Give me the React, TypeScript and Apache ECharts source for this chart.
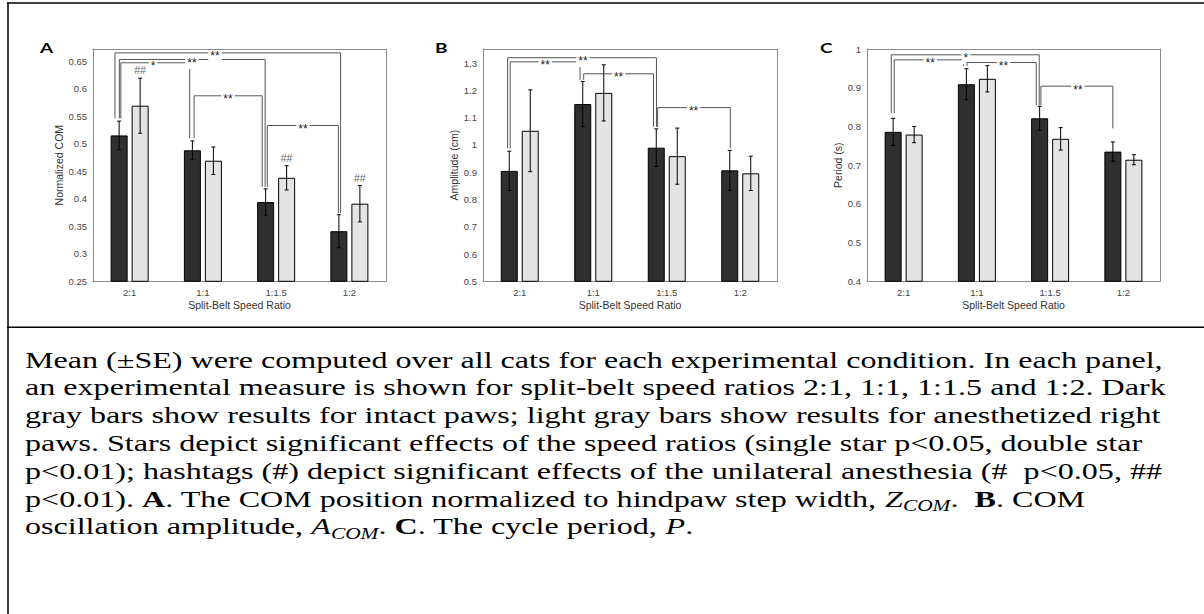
import React, { useEffect, useRef } from "react";
import * as echarts from "echarts";

const categories = ["2:1", "1:1", "1:1.5", "1:2"];

// Panel A: Normalized COM
const comIntact = [0.515, 0.488, 0.394, 0.341];
const comIntactSE = [0.026, 0.017, 0.024, 0.03];
const comAnesth = [0.569, 0.469, 0.438, 0.391];
const comAnesthSE = [0.05, 0.025, 0.022, 0.033];
const comHash = ["##", "", "##", "##"];

// Panel B: Amplitude (cm)
const ampIntact = [0.905, 1.15, 0.99, 0.907];
const ampIntactSE = [0.072, 0.083, 0.069, 0.073];
const ampAnesth = [1.052, 1.191, 0.959, 0.896];
const ampAnesthSE = [0.15, 0.103, 0.103, 0.063];
const ampHash = ["", "", "", ""];

// Panel C: Period (s)
const perIntact = [0.786, 0.909, 0.821, 0.735];
const perIntactSE = [0.035, 0.04, 0.031, 0.025];
const perAnesth = [0.779, 0.923, 0.768, 0.714];
const perAnesthSE = [0.021, 0.034, 0.029, 0.013];
const perHash = ["", "", "", ""];

// Significance brackets: x1/x2/lx in category units (0 = first category centre),
// y = bracket level, d1/d2 = where the legs end (data units)
const comBrackets = [
  { x1: -0.12, x2: 0.82, y: 0.647, d1: 0.546, d2: 0.51, lx: 0.32, label: "*" },
  { x1: -0.14, x2: 1.85, y: 0.653, d1: 0.546, d2: 0.4215, lx: 0.85, label: "**" },
  { x1: -0.2, x2: 2.88, y: 0.665, d1: 0.546, d2: 0.374, lx: 1.165, label: "**" },
  { x1: 0.88, x2: 1.81, y: 0.587, d1: 0.51, d2: 0.4215, lx: 1.343, label: "**" },
  { x1: 1.88, x2: 2.85, y: 0.533, d1: 0.4215, d2: 0.374, lx: 2.367, label: "**" },
];
const ampBrackets = [
  { x1: -0.13, x2: 0.82, y: 1.305, d1: 0.988, d2: 1.239, lx: 0.346, label: "**" },
  { x1: -0.165, x2: 1.86, y: 1.32, d1: 0.988, d2: 1.067, lx: 0.86, label: "**" },
  { x1: 0.87, x2: 1.82, y: 1.261, d1: 1.239, d2: 1.067, lx: 1.345, label: "**" },
  { x1: 1.876, x2: 2.865, y: 1.137, d1: 1.067, d2: 0.988, lx: 2.365, label: "**" },
];
const perBrackets = [
  { x1: -0.128, x2: 0.818, y: 0.972, d1: 0.834, d2: 0.956, lx: 0.364, label: "**" },
  { x1: -0.169, x2: 1.851, y: 0.985, d1: 0.834, d2: 0.855, lx: 0.85, label: "*" },
  { x1: 0.864, x2: 1.81, y: 0.965, d1: 0.956, d2: 0.855, lx: 1.364, label: "**" },
  { x1: 1.874, x2: 2.856, y: 0.904, d1: 0.855, d2: 0.795, lx: 2.379, label: "**" },
];

const captionLines = [
  "Mean (±SE) were computed over all cats for each experimental condition. In each panel,",
  "an experimental measure is shown for split-belt speed ratios 2:1, 1:1, 1:1.5 and 1:2. Dark",
  "gray bars show results for intact paws; light gray bars show results for anesthetized right",
  "paws. Stars depict significant effects of the speed ratios (single star p<0.05, double star",
  "p<0.01); hashtags (#) depict significant effects of the unilateral anesthesia (#  p<0.05, ##",
  "p<0.01). {b|A}. The COM position normalized to hindpaw step width, {i|Z}{sub|COM}.  {b|B}. COM",
  "oscillation amplitude, {i|A}{sub|COM}. {b|C}. The cycle period, {i|P}.",
];

const SANS = "Liberation Sans, Arial, Helvetica, sans-serif";
const SERIF = "Liberation Serif, Times New Roman, serif";
const AXIS_GRAY = "#8a8a8a";
const BAR_W = 17;
const BAR_GAP = 4;
const CAPTION_SIZE = 24;
const CAPTION_STRETCH = 1.338;

const panels = [
  {
    letter: "A", left: 93, width: 293, yName: "Normalized COM", nameGap: 24,
    min: 0.25, max: 0.672, interval: 0.05, showMax: false,
    intact: comIntact, intactSE: comIntactSE, anesth: comAnesth, anesthSE: comAnesthSE,
    hash: comHash, brackets: comBrackets, letterX: 40,
  },
  {
    letter: "B", left: 483, width: 294, yName: "Amplitude (cm)", nameGap: 17,
    min: 0.5, max: 1.352, interval: 0.1, showMax: false,
    intact: ampIntact, intactSE: ampIntactSE, anesth: ampAnesth, anesthSE: ampAnesthSE,
    hash: ampHash, brackets: ampBrackets, letterX: 435,
  },
  {
    letter: "C", left: 867, width: 293, yName: "Period (s)", nameGap: 19,
    min: 0.4, max: 1.0, interval: 0.1, showMax: true,
    intact: perIntact, intactSE: perIntactSE, anesth: perAnesth, anesthSE: perAnesthSE,
    hash: perHash, brackets: perBrackets, letterX: 820,
  },
];

function errRender(vals: number[], ses: number[], side: number, hashes: string[]) {
  return (params: any, api: any) => {
    const i = params.dataIndex;
    const c = api.coord([i, vals[i]]);
    const x = c[0] + side * (BAR_W / 2 + BAR_GAP / 2);
    const top = api.coord([i, vals[i] + ses[i]])[1];
    const bot = api.coord([i, vals[i] - ses[i]])[1];
    const cap = 2;
    const st = { stroke: "#000", lineWidth: 1 };
    const children: any[] = [
      { type: "line", shape: { x1: x, y1: top, x2: x, y2: bot }, style: st },
      { type: "line", shape: { x1: x - cap, y1: top, x2: x + cap, y2: top }, style: st },
      { type: "line", shape: { x1: x - cap, y1: bot, x2: x + cap, y2: bot }, style: st },
    ];
    if (hashes[i]) {
      children.push({
        type: "text", x: x, y: top - 8,
        style: { text: hashes[i], fill: "#666", fontSize: 10.5, fontFamily: SANS, align: "center", verticalAlign: "middle" },
      });
    }
    return { type: "group", children };
  };
}

function bracketRender(brackets: any[]) {
  return (params: any, api: any) => {
    const b = brackets[params.dataIndex];
    const band = api.size([1, 0])[0];
    const x0 = api.coord([0, b.y])[0];
    const px = (u: number) => x0 + u * band;
    const py = (v: number) => api.coord([0, v])[1];
    const x1 = px(b.x1), x2 = px(b.x2), y = py(b.y), d1 = py(b.d1), d2 = py(b.d2);
    return {
      type: "group",
      children: [
        {
          type: "polyline",
          shape: { points: [[x1, d1], [x1, y], [x2, y], [x2, d2]] },
          style: { stroke: "#555", lineWidth: 1, fill: null },
        },
        {
          type: "text", x: px(b.lx), y: y + 3.5,
          style: {
            text: b.label, fill: "#222", fontSize: 12, fontFamily: SANS,
            align: "center", verticalAlign: "middle", backgroundColor: "#fff", padding: [0, 2],
          },
        },
      ],
    };
  };
}

export default function App() {
  const ref = useRef<HTMLDivElement>(null);
  useEffect(() => {
    if (!ref.current) return;
    const chart = echarts.init(ref.current, null, { renderer: "svg" });
    const grid: any[] = [];
    const xAxis: any[] = [];
    const yAxis: any[] = [];
    const series: any[] = [];
    const tickStyle = { inside: true, length: 3, lineStyle: { color: AXIS_GRAY, width: 1 } };
    const lineStyle = { show: true, lineStyle: { color: AXIS_GRAY, width: 1 } };

    panels.forEach((p) => {
      grid.push({ left: p.left, top: 49, width: p.width, height: 232.3, containLabel: false });
    });
    panels.forEach((p, k) => {
      xAxis.push({
        gridIndex: k, type: "category", data: categories, position: "bottom",
        axisLine: lineStyle, axisTick: { ...tickStyle, alignWithLabel: true },
        axisLabel: { color: "#444", fontSize: 9.5, margin: 6, fontFamily: SANS },
        name: "Split-Belt Speed Ratio", nameLocation: "middle", nameGap: 18,
        nameTextStyle: { color: "#333", fontSize: 10.5, fontFamily: SANS },
        splitLine: { show: false },
      });
    });
    panels.forEach((p, k) => {
      xAxis.push({
        gridIndex: k, type: "category", data: categories, position: "top",
        axisLine: lineStyle, axisTick: { ...tickStyle, alignWithLabel: true },
        axisLabel: { show: false }, splitLine: { show: false },
      });
    });
    panels.forEach((p, k) => {
      yAxis.push({
        gridIndex: k, type: "value", min: p.min, max: p.max, interval: p.interval, position: "left",
        axisLine: lineStyle, axisTick: tickStyle,
        axisLabel: { color: "#444", fontSize: 9.5, margin: 6, fontFamily: SANS, showMaxLabel: p.showMax },
        splitLine: { show: false },
        name: p.yName, nameLocation: "middle", nameGap: p.nameGap, nameRotate: 90,
        nameTextStyle: { color: "#333", fontSize: 10.5, fontFamily: SANS },
      });
    });
    panels.forEach((p, k) => {
      yAxis.push({
        gridIndex: k, type: "value", min: p.min, max: p.max, interval: p.interval, position: "right",
        axisLine: lineStyle, axisTick: tickStyle, axisLabel: { show: false }, splitLine: { show: false },
      });
    });
    panels.forEach((p, k) => {
      series.push({
        type: "bar", xAxisIndex: k, yAxisIndex: k, data: p.intact, barWidth: BAR_W,
        barGap: (BAR_GAP / BAR_W) * 100 + "%",
        itemStyle: { color: "#2f2f2f", borderColor: "#000", borderWidth: 1 },
      });
      series.push({
        type: "bar", xAxisIndex: k, yAxisIndex: k, data: p.anesth, barWidth: BAR_W,
        barGap: (BAR_GAP / BAR_W) * 100 + "%",
        itemStyle: { color: "#e4e4e4", borderColor: "#000", borderWidth: 1 },
      });
      series.push({
        type: "custom", xAxisIndex: k, yAxisIndex: k, z: 5,
        data: p.intact.map((v, i) => [i, v]),
        renderItem: errRender(p.intact, p.intactSE, -1, ["", "", "", ""]),
      });
      series.push({
        type: "custom", xAxisIndex: k, yAxisIndex: k, z: 5,
        data: p.anesth.map((v, i) => [i, v]),
        renderItem: errRender(p.anesth, p.anesthSE, 1, p.hash),
      });
      series.push({
        type: "custom", xAxisIndex: k, yAxisIndex: k, z: 6,
        data: p.brackets.map((b) => [0, b.y]),
        renderItem: bracketRender(p.brackets),
      });
    });

    const graphic: any[] = [
      { type: "line", shape: { x1: 7, y1: 3, x2: 1204, y2: 3 }, style: { stroke: "#000", lineWidth: 1.5 } },
      { type: "line", shape: { x1: 8, y1: 3, x2: 8, y2: 614 }, style: { stroke: "#000", lineWidth: 1.5 } },
      { type: "line", shape: { x1: 7, y1: 327.3, x2: 1204, y2: 327.3 }, style: { stroke: "#000", lineWidth: 1.5 } },
    ];
    panels.forEach((p) => {
      graphic.push({
        type: "text", x: p.letterX, y: 48, scaleX: 1.35,
        style: { text: p.letter, fill: "#000", fontSize: 14, fontWeight: "bold", fontFamily: "Lato, Open Sans, sans-serif", verticalAlign: "middle" },
      });
    });
    captionLines.forEach((t, n) => {
      const baseline = 367.7 + n * 27.8;
      graphic.push({
        type: "text", x: 25, y: baseline - 15 - 0.3375 * CAPTION_SIZE, scaleX: CAPTION_STRETCH,
        style: {
          text: t, fill: "#000", fontSize: CAPTION_SIZE, fontFamily: SERIF, lineHeight: 30,
          verticalAlign: "top", align: "left",
          rich: {
            b: { fontWeight: "bold", fontSize: CAPTION_SIZE, fontFamily: SERIF, lineHeight: 30 },
            i: { fontStyle: "italic", fontSize: CAPTION_SIZE, fontFamily: SERIF, lineHeight: 30 },
            sub: { fontStyle: "italic", fontSize: 16, fontFamily: SERIF, lineHeight: 30, verticalAlign: "bottom" },
          },
        },
      });
    });

    chart.setOption({
      animation: false,
      backgroundColor: "#fff",
      grid, xAxis, yAxis, series, graphic,
    });
    return () => chart.dispose();
  }, []);
  return <div ref={ref} style={{ position: "fixed", left: 0, top: 0, width: 1204, height: 614, background: "#fff" }} />;
}
